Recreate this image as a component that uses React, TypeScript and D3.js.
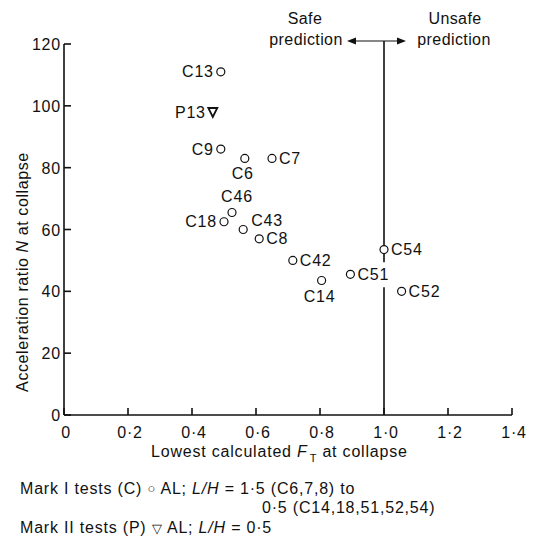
import React from 'react';
import * as d3 from 'd3';

// ---- data ----
const xTicks = [0, 0.2, 0.4, 0.6, 0.8, 1.0, 1.2, 1.4];
const xTickLabels = ['0', '0·2', '0·4', '0·6', '0·8', '1·0', '1·2', '1·4'];
const yTicks = [0, 20, 40, 60, 80, 100, 120];
const yTickLabels = ['0', '20', '40', '60', '80', '100', '120'];

const markIIds = ['C13', 'C9', 'C6', 'C7', 'C46', 'C18', 'C43', 'C8', 'C42', 'C14', 'C51', 'C54', 'C52'];
const markIFT = [0.49, 0.49, 0.565, 0.65, 0.525, 0.5, 0.56, 0.61, 0.715, 0.805, 0.895, 1.0, 1.055];
const markIN = [111, 86, 83, 83, 65.5, 62.5, 60, 57, 50, 43.5, 45.5, 53.5, 40];
const markILabelSide = ['left', 'left', 'below', 'right', 'above', 'left', 'aboveRight', 'right', 'right', 'below', 'right', 'right', 'right'];

const markIIIds = ['P13'];
const markIIFT = [0.465];
const markIIN = [98];
const markIILabelSide = ['left'];

const boundaryFT = 1.0;

const W = 534;
const H = 542;
const FONT = '"Liberation Sans", Arial, Helvetica, sans-serif';
const FS = 16;
const LS = 0.8;

function labelPos(side: string, cx: number, cy: number) {
  switch (side) {
    case 'left':
      return { x: cx - 7, y: cy + 5.5, anchor: 'end' };
    case 'right':
      return { x: cx + 7, y: cy + 5.5, anchor: 'start' };
    case 'below':
      return { x: cx - 2, y: cy + 21, anchor: 'middle' };
    case 'above':
      return { x: cx + 5, y: cy - 10, anchor: 'middle' };
    case 'aboveRight':
      return { x: cx + 8, y: cy - 4, anchor: 'start' };
    default:
      return { x: cx + 7, y: cy + 5.5, anchor: 'start' };
  }
}

export default function App() {
  const x = d3.scaleLinear().domain([0, 1.4]).range([64, 512]);
  const y = d3.scaleLinear().domain([0, 120]).range([415, 44]);
  const x0 = x(0);
  const y0 = y(0);
  const bx = x(boundaryFT);
  const topY = 41;

  // gap in boundary line for the C51 label
  const c51 = markIIds.indexOf('C51');
  const gapTop = y(markIN[c51]) - 12;
  const gapBot = y(markIN[c51]) + 13;

  const tri = (cx: number, cy: number) =>
    `M${cx - 4.5},${cy - 4} L${cx + 4.5},${cy - 4} L${cx},${cy + 5} Z`;

  return (
    <svg
      width={W}
      height={H}
      style={{ position: 'absolute', left: 0, top: 0, background: '#fff' }}
      fontFamily={FONT}
    >
      <rect x={0} y={0} width={W} height={H} fill="#fff" />

      {/* axes */}
      <g stroke="#111" strokeWidth={1.6} fill="none">
        <line x1={x0} y1={y0} x2={x(1.4)} y2={y0} />
        <line x1={x0} y1={y0} x2={x0} y2={y(120)} />
        {yTicks.map((t) => (
          <line key={'yt' + t} x1={x0} x2={x0 + 7} y1={y(t)} y2={y(t)} />
        ))}
        {xTicks.map((t) => (
          <line key={'xt' + t} x1={x(t)} x2={x(t)} y1={y0} y2={y0 - 7} />
        ))}
      </g>

      {/* tick labels */}
      <g fontSize={FS} fill="#111" letterSpacing={LS}>
        {yTicks.map((t, i) => (
          <text key={'yl' + t} x={x0 - 3} y={y(t) + 6} textAnchor="end">
            {yTickLabels[i]}
          </text>
        ))}
        {xTicks.map((t, i) => (
          <text key={'xl' + t} x={x(t) + 2} y={y0 + 23} textAnchor="middle">
            {xTickLabels[i]}
          </text>
        ))}
      </g>

      {/* axis titles */}
      <text x={151} y={457} fontSize={FS} fill="#111" letterSpacing={LS}>
        Lowest calculated <tspan fontStyle="italic">F</tspan>
        <tspan fontSize={11} dy={5} dx={2}>T</tspan>
        <tspan dy={-5}> at collapse</tspan>
      </text>
      <text
        transform={`translate(28,${272}) rotate(-90)`}
        textAnchor="middle"
        fontSize={FS}
        fill="#111"
        letterSpacing={0.6}
      >
        Acceleration ratio <tspan fontStyle="italic">N</tspan> at collapse
      </text>

      {/* boundary line F_T = 1 */}
      <g stroke="#111" strokeWidth={1.6}>
        <line x1={bx} x2={bx} y1={topY} y2={gapTop} />
        <line x1={bx} x2={bx} y1={gapBot} y2={y0} />
        <line x1={bx - 30} x2={bx + 20} y1={topY} y2={topY} strokeWidth={1.2} />
      </g>
      <path d={`M${bx - 37},${topY} L${bx - 28},${topY - 3.5} L${bx - 28},${topY + 3.5} Z`} fill="#111" />
      <path d={`M${bx + 22},${topY} L${bx + 13},${topY - 3.5} L${bx + 13},${topY + 3.5} Z`} fill="#111" />
      <g fontSize={FS} fill="#111" letterSpacing={0.4} textAnchor="middle">
        <text x={bx - 79} y={24}>Safe</text>
        <text x={bx - 78} y={45}>prediction</text>
        <text x={bx + 71} y={24}>Unsafe</text>
        <text x={bx + 70} y={45}>prediction</text>
      </g>

      {/* Mark I points */}
      {markIIds.map((id, i) => {
        const cx = x(markIFT[i]);
        const cy = y(markIN[i]);
        const lp = labelPos(markILabelSide[i], cx, cy);
        return (
          <g key={id}>
            <circle cx={cx} cy={cy} r={4} fill="#fff" stroke="#111" strokeWidth={1.2} />
            <text x={lp.x} y={lp.y} textAnchor={lp.anchor} fontSize={FS} fill="#111" letterSpacing={LS}>
              {id}
            </text>
          </g>
        );
      })}

      {/* Mark II points */}
      {markIIIds.map((id, i) => {
        const cx = x(markIIFT[i]);
        const cy = y(markIIN[i]);
        const lp = labelPos(markIILabelSide[i], cx, cy);
        return (
          <g key={id}>
            <path d={tri(cx, cy)} fill="#fff" stroke="#111" strokeWidth={1.8} strokeLinejoin="miter" />
            <text x={lp.x} y={lp.y} textAnchor={lp.anchor} fontSize={FS} fill="#111" letterSpacing={LS}>
              {id}
            </text>
          </g>
        );
      })}

      {/* caption */}
      <g fontSize={FS} fill="#111" letterSpacing={LS}>
        <text x={20} y={494}>
          Mark I tests (C) <tspan fontSize={13} dy={-1}>○</tspan>
          <tspan dy={1}> AL; </tspan>
          <tspan fontStyle="italic">L/H</tspan> = 1·5 (C6,7,8) to
        </text>
        <text x={262} y={513}>0·5 (C14,18,51,52,54)</text>
        <text x={20} y={533}>
          Mark II tests (P) <tspan fontSize={13}>▽</tspan> AL; <tspan fontStyle="italic">L/H</tspan> = 0·5
        </text>
      </g>
    </svg>
  );
}
